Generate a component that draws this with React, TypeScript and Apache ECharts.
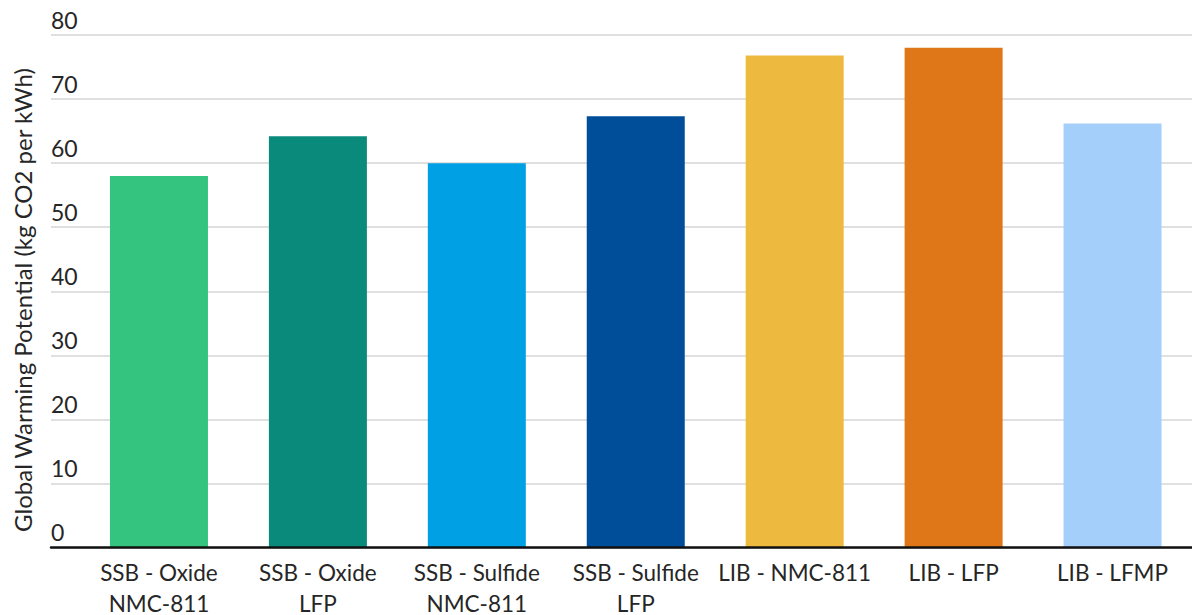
import { useEffect, useRef } from "react";
import * as echarts from "echarts";

// Battery chemistries compared
const categories = [
  "SSB - Oxide\nNMC-811",
  "SSB - Oxide\nLFP",
  "SSB - Sulfide\nNMC-811",
  "SSB - Sulfide\nLFP",
  "LIB - NMC-811",
  "LIB - LFP",
  "LIB - LFMP",
];

// Global warming potential, kg CO2 per kWh
const gwpValues = [58, 64.2, 60, 67.3, 76.8, 78, 66.2];

const barColors = [
  "#35C47F",
  "#0A8A7B",
  "#00A1E4",
  "#004E9A",
  "#EDB93E",
  "#DF7719",
  "#A5CFFB",
];

const yMin = 0;
const yMax = 80;
const yStep = 10;

const yAxisTitle = "Global Warming Potential (kg CO2 per kWh)";

const FONT = "Lato, 'Noto Sans', sans-serif";
const TEXT_COLOR = "#262626";

export default function App() {
  const ref = useRef<HTMLDivElement>(null);

  useEffect(() => {
    document.body.style.margin = "0";
    if (!ref.current) return;
    const chart = echarts.init(ref.current, undefined, { renderer: "svg" });

    chart.setOption({
      animation: false,
      backgroundColor: "#ffffff",
      grid: [
        // bars
        { left: 79.5, right: 0, top: 35, bottom: 67.5, outerBoundsMode: "none", containLabel: false },
        // gridlines, tick labels and baseline
        { left: 51, right: 0, top: 35, bottom: 67.5, outerBoundsMode: "none", containLabel: false },
      ],
      xAxis: [
        {
          type: "category",
          gridIndex: 0,
          data: categories,
          axisLine: { show: false },
          axisTick: { show: false },
          axisLabel: {
            margin: 9,
            fontFamily: FONT,
            fontSize: 22.5,
            lineHeight: 31,
            color: TEXT_COLOR,
            verticalAlign: "top",
            interval: 0,
          },
        },
        {
          type: "value",
          gridIndex: 1,
          min: 0,
          max: 1,
          z: 5,
          axisLine: { show: true, lineStyle: { color: "#111111", width: 2.5 } },
          axisTick: { show: false },
          axisLabel: { show: false },
          splitLine: { show: false },
        },
      ],
      yAxis: [
        {
          type: "value",
          gridIndex: 0,
          min: yMin,
          max: yMax,
          interval: yStep,
          show: false,
        },
        {
          type: "value",
          gridIndex: 1,
          min: yMin,
          max: yMax,
          interval: yStep,
          axisLine: { show: false },
          axisTick: { show: false },
          splitLine: { show: true, lineStyle: { color: "#d6d6d6", width: 1.5 } },
          axisLabel: {
            inside: true,
            margin: 0,
            align: "left",
            verticalAlign: "bottom",
            lineHeight: 31,
            fontFamily: FONT,
            fontSize: 23,
            color: TEXT_COLOR,
          },
        },
      ],
      graphic: [
        {
          type: "text",
          x: 22,
          y: 300,
          rotation: Math.PI / 2,
          style: {
            text: yAxisTitle,
            fontFamily: FONT,
            fontSize: 24,
            fill: TEXT_COLOR,
            align: "center",
            verticalAlign: "middle",
          },
        },
      ],
      series: [
        {
          type: "bar",
          xAxisIndex: 0,
          yAxisIndex: 0,
          barWidth: 98,
          data: gwpValues.map((v, i) => ({
            value: v,
            itemStyle: { color: barColors[i] },
          })),
        },
      ],
    });

    return () => chart.dispose();
  }, []);

  return <div ref={ref} style={{ width: 1192, height: 615 }} />;
}
